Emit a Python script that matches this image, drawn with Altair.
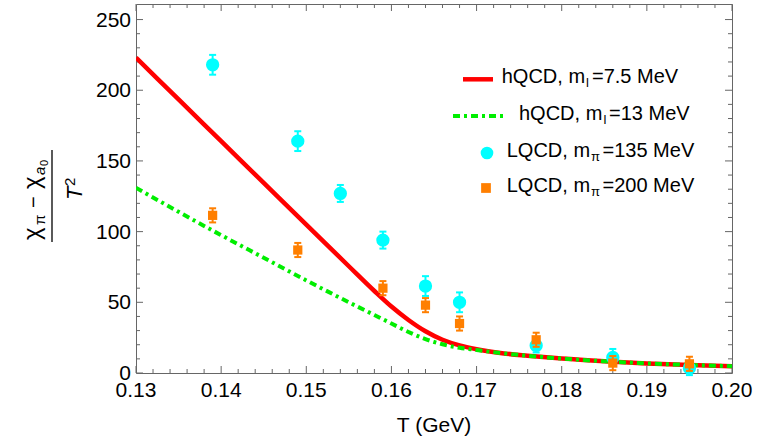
import altair as alt
import pandas as pd

# ---------------- data ----------------
T_curve = [0.130, 0.135, 0.140, 0.145, 0.150, 0.155, 0.158, 0.160, 0.162, 0.164,
           0.166, 0.168, 0.170, 0.173, 0.176, 0.180, 0.185, 0.190, 0.195, 0.200]
hqcd_ml75 = [223, 193.5, 164, 134.5, 105, 75.5, 58, 47, 37.5, 29.5,
             23.5, 19.5, 16.8, 14, 12.2, 10.2, 8.3, 6.8, 5.7, 4.8]
hqcd_ml13 = [131, 114, 97.5, 81.5, 65.5, 50, 41, 35, 29, 24,
             20.3, 17.8, 16.3, 14, 12.2, 10.2, 8.3, 6.8, 5.7, 4.8]

T_lqcd135 = [0.139, 0.149, 0.154, 0.159, 0.164, 0.168, 0.177, 0.186, 0.195]
val_lqcd135 = [218, 164, 127, 94, 61.5, 50, 19.5, 11, 3.5]
err_lqcd135 = [7, 7, 6, 6, 7, 7, 5, 6, 5]

T_lqcd200 = [0.139, 0.149, 0.159, 0.164, 0.168, 0.177, 0.186, 0.195]
val_lqcd200 = [111.5, 87, 60, 48, 35, 23.5, 7, 6.5]
err_lqcd200 = [5, 5, 5, 5, 5, 5, 5, 5]

x_major = [0.13, 0.14, 0.15, 0.16, 0.17, 0.18, 0.19, 0.20]
x_labels = ["0.13", "0.14", "0.15", "0.16", "0.17", "0.18", "0.19", "0.20"]
y_major = [0, 50, 100, 150, 200, 250]
y_labels = ["0", "50", "100", "150", "200", "250"]
x_minor = [round(0.13 + 0.002 * i, 3) for i in range(36) if i % 5]
y_minor = [10 * i for i in range(26) if i % 5]

x_title = "T (GeV)"
leg1 = ["hQCD, m", "l", "=7.5 MeV"]
leg2 = ["hQCD, m", "l", "=13 MeV"]
leg3 = ["LQCD, m", "\u03c0", "=135 MeV"]
leg4 = ["LQCD, m", "\u03c0", "=200 MeV"]

# ---------------- styling ----------------
W, H = 596, 369
FONT = "Liberation Sans"
FRAME = "#666666"
RED = "#FF0000"
GREEN = "#00EE00"
CYAN = "#00FFFF"
ORANGE = "#FF7F00"
DASH = [7, 4, 3, 4]

xs = alt.Scale(domain=[0.13, 0.20], nice=False, zero=False)
ys = alt.Scale(domain=[0, 261], nice=False, zero=False)


def X(f):
    return alt.X(f, type="quantitative", scale=xs, axis=None)


def Y(f):
    return alt.Y(f, type="quantitative", scale=ys, axis=None)


one = pd.DataFrame({"k": [0]})


def txt(s, x, y, size, angle=0, align="left", style="normal", baseline="alphabetic"):
    kw = dict(font=FONT, fontSize=size, align=align, baseline=baseline,
              color="black", fontStyle=style)
    if angle:
        kw["angle"] = angle
    return alt.Chart(pd.DataFrame({"s": [s]})).mark_text(**kw).encode(
        x=alt.value(x), y=alt.value(y), text="s:N")


layers = []

# ---------------- frame ticks (inward) ----------------
xM = pd.DataFrame({"T": x_major, "lab": x_labels})
xm = pd.DataFrame({"T": x_minor})
yM = pd.DataFrame({"v": y_major, "lab": y_labels})
ym = pd.DataFrame({"v": y_minor})
for df, ln in ((xM, 7), (xm, 4)):
    layers.append(alt.Chart(df).mark_rule(color=FRAME, strokeWidth=1).encode(
        x=X("T"), y=alt.value(H), y2=alt.value(H - ln)))
    layers.append(alt.Chart(df).mark_rule(color=FRAME, strokeWidth=1).encode(
        x=X("T"), y=alt.value(0), y2=alt.value(ln)))
for df, ln in ((yM, 7), (ym, 4)):
    layers.append(alt.Chart(df).mark_rule(color=FRAME, strokeWidth=1).encode(
        y=Y("v"), x=alt.value(0), x2=alt.value(ln)))
    layers.append(alt.Chart(df).mark_rule(color=FRAME, strokeWidth=1).encode(
        y=Y("v"), x=alt.value(W), x2=alt.value(W - ln)))

# tick labels
layers.append(alt.Chart(xM).mark_text(font=FONT, fontSize=21, align="center",
                                      baseline="alphabetic", color="black").encode(
    x=X("T"), y=alt.value(H + 24), text="lab:N"))
layers.append(alt.Chart(yM).mark_text(font=FONT, fontSize=21, align="right",
                                      baseline="middle", color="black", dy=1).encode(
    y=Y("v"), x=alt.value(-5), text="lab:N"))

# x title
layers.append(txt(x_title, W / 2, 428, 21, align="center"))

# y title : (chi_pi - chi_a0) / T^2, rotated
layers.append(txt("\u03c7", -96.5, 236, 24, angle=270))
layers.append(txt("\u03c0", -91.5, 221, 15, angle=270))
layers.append(txt("\u2212", -96.5, 204, 20, angle=270))
layers.append(txt("\u03c7", -96.5, 185, 24, angle=270))
layers.append(txt("a", -91.5, 171, 15, angle=270, style="italic"))
layers.append(txt("0", -88, 162, 11, angle=270))
layers.append(alt.Chart(one).mark_rule(color="black", strokeWidth=1.3).encode(
    x=alt.value(-84), y=alt.value(146), y2=alt.value(238)))
layers.append(txt("T", -54, 196, 22, angle=270, style="italic"))
layers.append(txt("2", -61, 182, 15, angle=270))

# ---------------- curves ----------------
curve = pd.DataFrame({"T": T_curve, "a": hqcd_ml75, "b": hqcd_ml13})
layers.append(alt.Chart(curve).mark_line(color=RED, strokeWidth=4.5, interpolate="monotone",
                                         clip=True).encode(x=X("T"), y=Y("a")))
layers.append(alt.Chart(curve).mark_line(color=GREEN, strokeWidth=4, strokeDash=DASH,
                                         interpolate="monotone", clip=True).encode(
    x=X("T"), y=Y("b")))

# ---------------- lattice points ----------------
for Tv, vv, ev, col, shape, size in (
        (T_lqcd135, val_lqcd135, err_lqcd135, CYAN, "circle", 177),
        (T_lqcd200, val_lqcd200, err_lqcd200, ORANGE, "square", 85)):
    df = pd.DataFrame({"T": Tv, "v": vv, "e": ev})
    df["lo"] = df["v"] - df["e"]
    df["hi"] = df["v"] + df["e"]
    base = alt.Chart(df)
    layers.append(base.mark_rule(color=col, strokeWidth=2).encode(
        x=X("T"), y=Y("lo"), y2="hi:Q"))
    layers.append(base.mark_tick(color=col, orient="horizontal", size=7, thickness=2,
                                 opacity=1).encode(x=X("T"), y=Y("hi")))
    layers.append(base.mark_tick(color=col, orient="horizontal", size=7, thickness=2,
                                 opacity=1).encode(x=X("T"), y=Y("lo")))
    layers.append(base.mark_point(shape=shape, filled=True, size=size, color=col,
                                  opacity=1).encode(x=X("T"), y=Y("v")))

# ---------------- legend ----------------
layers.append(alt.Chart(one).mark_rule(color=RED, strokeWidth=4.5).encode(
    x=alt.value(327), x2=alt.value(357), y=alt.value(75.3)))
layers.append(alt.Chart(one).mark_rule(color=GREEN, strokeWidth=4, strokeDash=DASH).encode(
    x=alt.value(317), x2=alt.value(369), y=alt.value(112)))
layers.append(alt.Chart(one).mark_point(shape="circle", filled=True, size=160, color=CYAN,
                                        opacity=1).encode(x=alt.value(351), y=alt.value(149)))
layers.append(alt.Chart(one).mark_point(shape="square", filled=True, size=95, color=ORANGE,
                                        opacity=1).encode(x=alt.value(350), y=alt.value(184)))

for parts, x0, yb, xs_sub, xs_rest in ((leg1, 365.7, 79.3, 450, 456),
                                       (leg2, 383, 116, 467.5, 473),
                                       (leg3, 370.7, 152.7, 455, 466.5),
                                       (leg4, 370.7, 187.7, 455, 466.5)):
    layers.append(txt(parts[0], x0, yb, 20))
    layers.append(txt(parts[1], xs_sub, yb + 4, 13))
    layers.append(txt(parts[2], xs_rest, yb, 20))

chart = alt.layer(*layers).properties(
    width=W, height=H,
    autosize=alt.AutoSizeParams(type="none"),
    padding={"left": 136, "top": 4, "right": 42, "bottom": 69},
    background="white",
).configure_view(stroke=FRAME, strokeWidth=1)

chart.save("out.html", embed_options={"renderer": "svg", "actions": False})
